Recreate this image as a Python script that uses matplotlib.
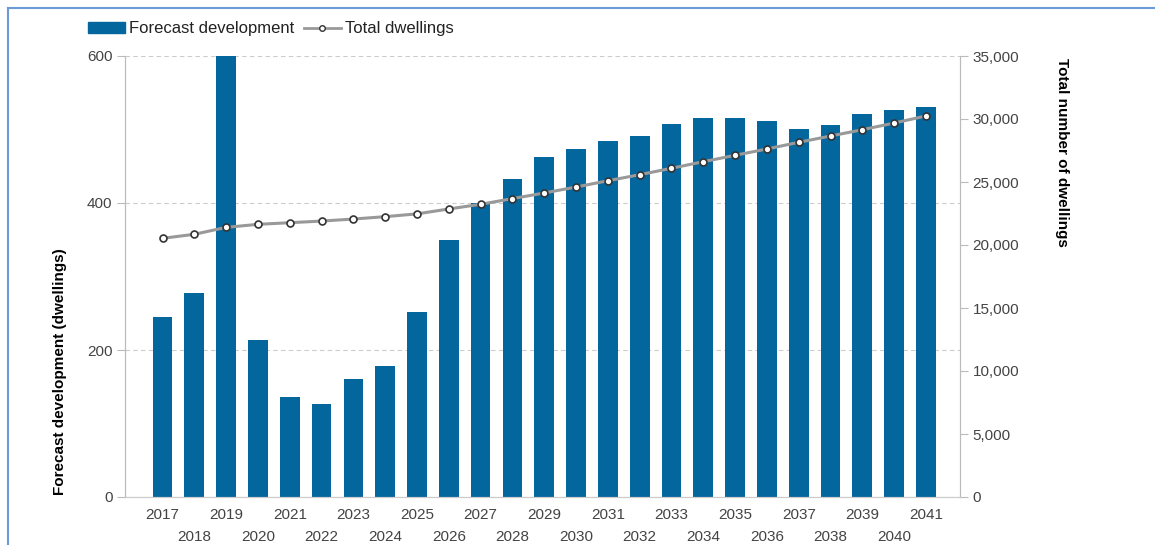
import matplotlib
matplotlib.use('Agg')
from matplotlib import pyplot as plt
from matplotlib.patches import Patch
from matplotlib.lines import Line2D

plt.rcParams['font.family'] = ['Liberation Sans', 'DejaVu Sans']

years = list(range(2017, 2042))
forecast_dev = [245, 278, 600, 214, 136, 126, 160, 178, 252, 350, 400, 433, 462,
                473, 485, 491, 508, 515, 515, 512, 500, 506, 521, 527, 531]
total_dwellings = [20530, 20850, 21400, 21640, 21770, 21900, 22060, 22250, 22470,
                   22860, 23230, 23680, 24130, 24600, 25100, 25580, 26090, 26610,
                   27120, 27620, 28150, 28650, 29150, 29680, 30240]

bar_color = '#03669c'
text_color = '#444444'
axis_color = '#bbbbbb'

fig = plt.figure(figsize=(11.55, 5.45), dpi=100)
ax = fig.add_axes([125 / 1155, 1 - 497 / 545, 835 / 1155, 441 / 545])
ax2 = ax.twinx()

x = list(range(len(years)))
ax.bar(x, forecast_dev, width=0.62, color=bar_color, zorder=2)
ax2.plot(x, total_dwellings, color='#999999', lw=2.2, marker='o', ms=5,
         mfc='white', mec='#333333', mew=1.2, zorder=3)

ax.set_xlim(-1.18, 25.07)
ax.set_ylim(0, 600)
ax2.set_ylim(0, 35000)

ax.set_yticks([0, 200, 400, 600])
ax2.set_yticks(range(0, 35001, 5000))
ax2.set_yticklabels([f'{v:,}' for v in range(0, 35001, 5000)])

# odd years on the first row, even years on the second
ax.set_xticks(x[::2])
ax.set_xticklabels([str(y) for y in years[::2]])
ax.set_xticks(x[1::2], minor=True)
ax.set_xticklabels([str(y) for y in years[1::2]], minor=True)
ax.tick_params(axis='x', which='major', length=0, pad=8, labelsize=11, labelcolor=text_color)
ax.tick_params(axis='x', which='minor', length=0, pad=24, labelsize=11, labelcolor=text_color)

ax.tick_params(axis='y', length=6, color=axis_color, labelsize=11, labelcolor=text_color, pad=3)
ax2.tick_params(axis='y', length=6, color=axis_color, labelsize=11, labelcolor=text_color, pad=3)

ax.set_axisbelow(True)
ax.yaxis.grid(True, linestyle=(0, (4, 3)), color='#cccccc', lw=0.8)

for a in (ax, ax2):
    a.spines['top'].set_visible(False)
    a.spines['left'].set_color(axis_color)
    a.spines['right'].set_color(axis_color)
    a.spines['bottom'].set_color('#cccccc')

ax.set_ylabel('Forecast development (dwellings)', fontsize=11, fontweight='bold',
              rotation=90, ha='left', va='center', rotation_mode='anchor')
ax.yaxis.set_label_coords(-0.078, 0.005)
ax2.set_ylabel('Total number of dwellings', fontsize=11, fontweight='bold',
               rotation=270, ha='left', va='center', rotation_mode='anchor')
ax2.yaxis.set_label_coords(1.122, 0.995)

handles = [Patch(color=bar_color),
           Line2D([], [], color='#999999', lw=2, marker='o', ms=4,
                  mfc='white', mec='#333333', mew=1)]
fig.legend(handles, ['Forecast development', 'Total dwellings'], ncol=2,
           loc='center left', bbox_to_anchor=(88 / 1155, 1 - 29 / 545),
           frameon=False, borderpad=0, borderaxespad=0, fontsize=12,
           handlelength=2.2, handleheight=0.65, handletextpad=0.25,
           columnspacing=0.6, labelcolor='#222222')

# light blue frame round the picture
fig.add_artist(Line2D([8 / 1155, 8 / 1155], [0, 1 - 8 / 545], color='#6a9ad8', lw=1.5))
fig.add_artist(Line2D([8 / 1155, 1], [1 - 8 / 545, 1 - 8 / 545], color='#6a9ad8', lw=1.5))

fig.savefig('out.png', dpi=100)
